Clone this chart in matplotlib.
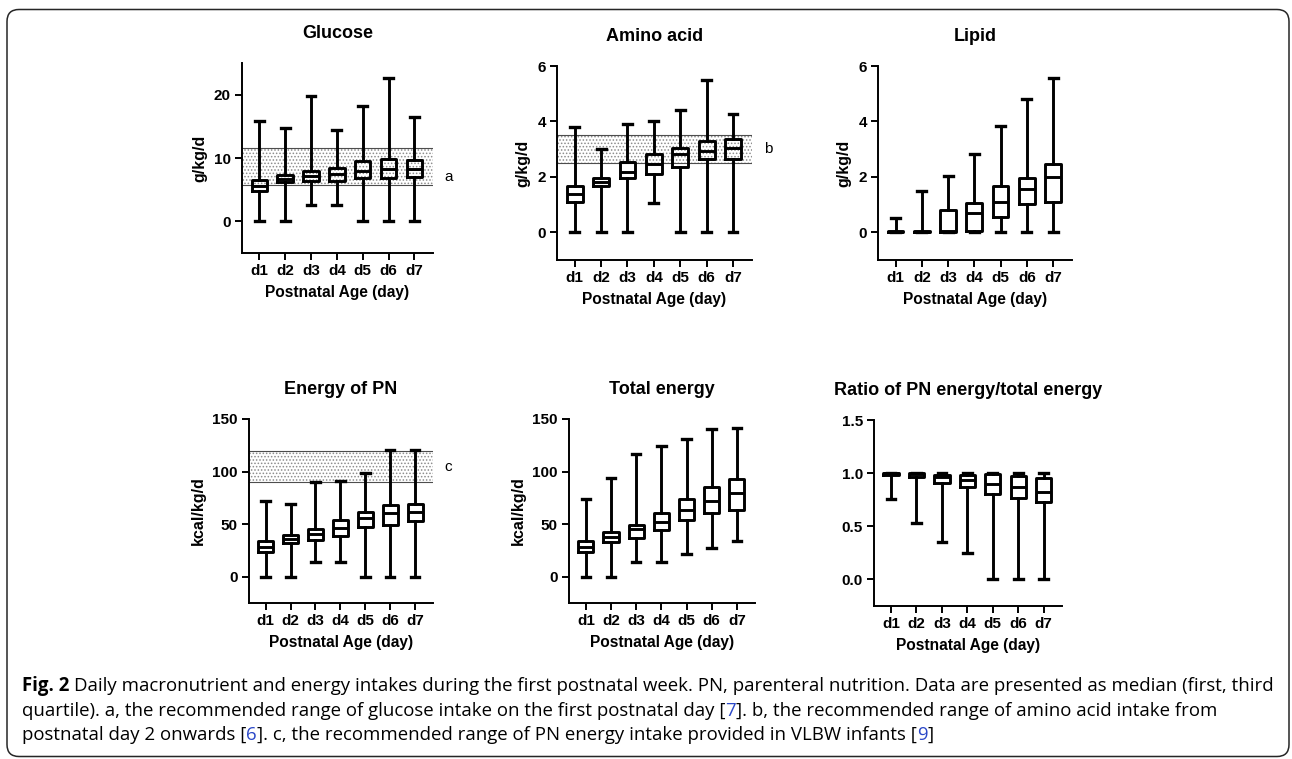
import matplotlib
matplotlib.use("Agg")
import matplotlib.pyplot as plt
from matplotlib.patches import FancyBboxPatch
from matplotlib.transforms import blended_transform_factory

plt.rcParams["font.family"] = ["Liberation Sans", "DejaVu Sans"]
plt.rcParams["hatch.linewidth"] = 0.7

days = ["d1", "d2", "d3", "d4", "d5", "d6", "d7"]

glucose_lo = [0, 0, 2.5, 2.5, 0, 0, 0]
glucose_q1 = [4.75, 6.15, 6.3, 6.3, 6.8, 6.8, 7.0]
glucose_med = [5.5, 6.7, 7.2, 7.4, 8.0, 8.25, 8.25]
glucose_q3 = [6.6, 7.25, 7.9, 8.4, 9.6, 9.8, 9.7]
glucose_hi = [15.9, 14.8, 19.8, 14.4, 18.2, 22.6, 16.4]

amino_lo = [0, 0, 0, 1.04, 0, 0, 0]
amino_q1 = [1.08, 1.67, 1.97, 2.09, 2.36, 2.66, 2.66]
amino_med = [1.39, 1.8, 2.19, 2.46, 2.83, 2.95, 3.04]
amino_q3 = [1.68, 1.96, 2.53, 2.84, 3.03, 3.29, 3.38]
amino_hi = [3.8, 3.0, 3.9, 4.02, 4.4, 5.48, 4.25]

lipid_lo = [0, 0, 0, 0, 0, 0, 0]
lipid_q1 = [0, 0, 0, 0.04, 0.56, 1.02, 1.08]
lipid_med = [0, 0, 0.03, 0.71, 1.1, 1.55, 1.98]
lipid_q3 = [0.06, 0.06, 0.8, 1.06, 1.66, 1.97, 2.45]
lipid_hi = [0.5, 1.5, 2.04, 2.83, 3.84, 4.82, 5.55]

pn_lo = [0, 0, 14.3, 14.3, 0, 0, 0]
pn_q1 = [23.5, 31.8, 35, 39, 47.6, 49.2, 52.7]
pn_med = [28.6, 35.9, 40.3, 46.7, 56.2, 60.3, 61.9]
pn_q3 = [33.7, 39.4, 45.4, 53.7, 61.6, 68, 69.5]
pn_hi = [72.4, 69.2, 90.5, 91.4, 99, 120.6, 120.3]

total_lo = [0, 0, 14.3, 14.3, 21.6, 27, 34]
total_q1 = [23.2, 32.7, 36.8, 44.7, 53.6, 60.6, 63.2]
total_med = [27.9, 38.1, 45.1, 52.4, 63.5, 72.4, 79.4]
total_q3 = [33.7, 42.6, 49.5, 61, 74.3, 85.1, 92.7]
total_hi = [73.7, 93.7, 116.5, 124.4, 130.8, 140.6, 141.3]

ratio_lo = [0.755, 0.53, 0.355, 0.25, 0, 0, 0]
ratio_q1 = [0.985, 0.965, 0.91, 0.865, 0.805, 0.77, 0.73]
ratio_med = [1.0, 0.99, 0.96, 0.94, 0.9, 0.87, 0.82]
ratio_q3 = [1.0, 1.0, 0.985, 0.98, 0.99, 0.97, 0.95]
ratio_hi = [1.0, 1.0, 1.0, 1.0, 1.0, 1.0, 1.0]

glucose_band = (5.8, 11.5)
amino_band = (2.5, 3.5)
pn_band = (90, 120)

W, H = 1292, 759
fig = plt.figure(figsize=(W / 100, H / 100), dpi=100)


def px_axes(left, top, right, bottom):
    return fig.add_axes([left / W, 1 - bottom / H, (right - left) / W, (bottom - top) / H])


def box_panel(ax, title, ylabel, lo, q1, med, q3, hi, ylim, yticks, fmt=None,
              band=None, band_label=None, label_y=None):
    stats = []
    for i in range(len(days)):
        stats.append({"med": med[i], "q1": q1[i], "q3": q3[i],
                      "whislo": lo[i], "whishi": hi[i]})
    pos = list(range(1, len(days) + 1))
    if band is not None:
        ax.axhspan(band[0], band[1], facecolor="none", edgecolor="0.55",
                   hatch=".....", linewidth=0, zorder=0)
        ax.axhline(band[0], color="0.3", lw=0.8, zorder=1)
        ax.axhline(band[1], color="0.3", lw=0.8, zorder=1)
        tr = blended_transform_factory(ax.transAxes, ax.transData)
        ax.text(1.06, label_y, band_label, transform=tr,
                fontsize=11, va="center", ha="left", clip_on=False)
    lw = 2.1
    ax.bxp(stats, positions=pos, widths=0.6, capwidths=0.34, showfliers=False,
           manage_ticks=False,
           boxprops=dict(color="black", lw=lw),
           whiskerprops=dict(color="black", lw=lw),
           capprops=dict(color="black", lw=lw + 0.3),
           medianprops=dict(color="black", lw=lw))
    ax.set_xlim(0.33, 7.72)
    ax.set_ylim(*ylim)
    ax.set_xticks(pos)
    ax.set_xticklabels(days)
    ax.set_yticks(yticks)
    if fmt:
        ax.set_yticklabels([fmt.format(v) for v in yticks])
    for s in ["top", "right"]:
        ax.spines[s].set_visible(False)
    for s in ["left", "bottom"]:
        ax.spines[s].set_linewidth(1.4)
    ax.tick_params(width=1.4, length=5, labelsize=11, pad=3)
    for lab in ax.get_xticklabels() + ax.get_yticklabels():
        lab.set_fontweight("bold")
    ax.set_title(title, fontsize=13, fontweight="bold", pad=18)
    ax.set_xlabel("Postnatal Age (day)", fontsize=11.2, fontweight="bold", labelpad=5)
    ax.set_ylabel(ylabel, fontsize=11.5, fontweight="bold", labelpad=5)


ax1 = px_axes(242, 63, 433, 253)
box_panel(ax1, "Glucose", "g/kg/d", glucose_lo, glucose_q1, glucose_med, glucose_q3,
          glucose_hi, (-5, 25), [0, 10, 20], band=glucose_band, band_label="a", label_y=7.0)

ax2 = px_axes(557, 66, 752, 260)
box_panel(ax2, "Amino acid", "g/kg/d", amino_lo, amino_q1, amino_med, amino_q3,
          amino_hi, (-1, 6), [0, 2, 4, 6], band=amino_band, band_label="b", label_y=3.0)

ax3 = px_axes(878, 66, 1072, 260)
box_panel(ax3, "Lipid", "g/kg/d", lipid_lo, lipid_q1, lipid_med, lipid_q3,
          lipid_hi, (-1, 6), [0, 2, 4, 6])

ax4 = px_axes(249, 419, 433, 603)
box_panel(ax4, "Energy of PN", "kcal/kg/d", pn_lo, pn_q1, pn_med, pn_q3, pn_hi,
          (-25, 150), [0, 50, 100, 150], band=pn_band, band_label="c", label_y=104)

ax5 = px_axes(569, 419, 755, 603)
box_panel(ax5, "Total energy", "kcal/kg/d", total_lo, total_q1, total_med, total_q3,
          total_hi, (-25, 150), [0, 50, 100, 150])

ax6 = px_axes(874, 420, 1062, 606)
box_panel(ax6, "Ratio of PN energy/total energy", "", ratio_lo, ratio_q1, ratio_med,
          ratio_q3, ratio_hi, (-0.25, 1.5), [0, 0.5, 1.0, 1.5], fmt="{:.1f}")

# rounded frame around the whole figure
frame = FancyBboxPatch((0.07, 0.025), 12.82, 7.47,
                       boxstyle="round,pad=0,rounding_size=0.12",
                       transform=fig.dpi_scale_trans, facecolor="none",
                       edgecolor="0.15", lw=1.1)
fig.patches.append(frame)

# caption
cap_font = "Open Sans"
blue = "#2b48c8"
renderer = fig.canvas.get_renderer()


def text_width(s, size, weight="normal"):
    t = fig.text(0, 0, s, fontsize=size, fontweight=weight, family=cap_font)
    w = t.get_window_extent(renderer).width
    t.remove()
    return w


line1_bold = "Fig. 2"
line1_rest = ("Daily macronutrient and energy intakes during the first postnatal week. "
              "PN, parenteral nutrition. Data are presented as median (first, third")
line2 = [("quartile). a, the recommended range of glucose intake on the first postnatal day [", "black"),
         ("7", blue),
         ("]. b, the recommended range of amino acid intake from", "black")]
line3 = [("postnatal day 2 onwards [", "black"),
         ("6", blue),
         ("]. c, the recommended range of PN energy intake provided in VLBW infants [", "black"),
         ("9", blue),
         ("]", "black")]

x0 = 22
target = 1262 - x0
base = 13.0
w_full = text_width(line1_bold, base, "bold") + text_width("a a", base) - text_width("aa", base) \
    + text_width(line1_rest, base)
size = base * target / w_full


def put(x, y, s, color="black", weight="normal"):
    fig.text(x / W, 1 - y / H, s, fontsize=size, fontweight=weight, color=color,
             family=cap_font, ha="left", va="baseline")


space = text_width("a a", size) - text_width("aa", size)
put(x0, 691, line1_bold, weight="bold")
put(x0 + text_width(line1_bold, size, "bold") + space, 691, line1_rest)


def put_runs(runs, y):
    prefix = ""
    for s, c in runs:
        x = x0 + (text_width(prefix, size) if prefix else 0)
        put(x, y, s, color=c)
        prefix += s


put_runs(line2, 715.5)
put_runs(line3, 740)

fig.savefig("out.png", dpi=100)
